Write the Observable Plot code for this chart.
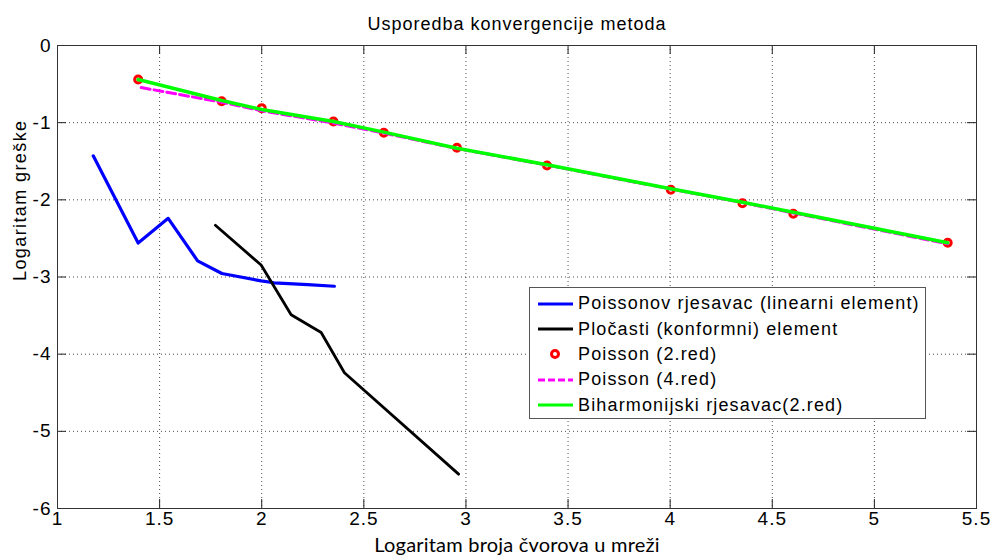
<!DOCTYPE html>
<html>
<head>
<meta charset="utf-8">
<script src="https://cdn.jsdelivr.net/npm/d3@7"></script>
<script src="https://cdn.jsdelivr.net/npm/@observablehq/plot@0.6"></script>
<style>
  html, body { margin: 0; padding: 0; background: #fff; }
  #wrap { position: relative; width: 992px; height: 556px; }
  #legend {
    position: absolute; left: 529px; top: 287px; width: 397px; height: 132px;
    border: 1px solid #555; background: #fff; box-sizing: border-box;
    font-family: "Liberation Sans", Arial, sans-serif; font-size: 18px; letter-spacing: 1.15px;
    padding-top: 3px;
  }
  .row { height: 25.4px; display: flex; align-items: center; white-space: nowrap; }
  .row svg { width: 38px; height: 20px; margin-left: 7px; margin-right: 3px; flex: none; }
</style>
</head>
<body>
<div id="wrap"></div>
<script>
// ---- data ----
const titleText = "Usporedba konvergencije metoda";
const xLabel = "Logaritam broja čvorova u mreži";
const yLabel = "Logaritam greške";
const xTicks = [1, 1.5, 2, 2.5, 3, 3.5, 4, 4.5, 5, 5.5];
const yTicks = [-6, -5, -4, -3, -2, -1, 0];

const seriesNames = [
  "Poissonov rjesavac (linearni element)",
  "Pločasti (konformni) element",
  "Poisson (2.red)",
  "Poisson (4.red)",
  "Biharmonijski rjesavac(2.red)"
];

const blueX = [1.175, 1.395, 1.542, 1.686, 1.805, 1.997, 2.06, 2.225, 2.356];
const blueY = [-1.43, -2.56, -2.24, -2.79, -2.955, -3.05, -3.075, -3.10, -3.12];

const blackX = [1.773, 1.997, 2.144, 2.291, 2.405, 2.964];
const blackY = [-2.33, -2.845, -3.49, -3.72, -4.24, -5.555];

const redX = [1.395, 1.804, 2.0, 2.351, 2.598, 2.956, 3.397, 4.003, 4.354, 4.603, 5.359];
const redY = [-0.441, -0.722, -0.812, -0.985, -1.131, -1.326, -1.555, -1.87, -2.044, -2.181, -2.557];

const magX = [1.41, 1.804, 2.0, 2.351, 2.598, 2.956, 3.397, 4.003, 4.354, 4.603, 5.359];
const magY = [-0.545, -0.735, -0.845, -1.005, -1.135, -1.335, -1.55, -1.86, -2.035, -2.17, -2.57];

const greenX = [1.395, 1.804, 2.0, 2.351, 2.598, 2.956, 3.397, 4.003, 4.354, 4.603, 5.359];
const greenY = [-0.441, -0.713, -0.829, -0.985, -1.123, -1.331, -1.546, -1.857, -2.031, -2.16, -2.557];

const zipXY = (xs, ys) => xs.map((x, i) => ({x, y: ys[i]}));
const blue = zipXY(blueX, blueY);
const black = zipXY(blackX, blackY);
const red = zipXY(redX, redY);
const mag = zipXY(magX, magY);
const green = zipXY(greenX, greenY);

const W = 992, H = 556, mL = 57, mR = 16, mT = 45, mB = 48;
const plotH = H - mT - mB, plotW = W - mL - mR;
const tick = 9;

const chart = Plot.plot({
  width: W, height: H,
  marginLeft: mL, marginRight: mR, marginTop: mT, marginBottom: mB,
  x: {domain: [1, 5.5]},
  y: {domain: [-6, 0]},
  style: {fontFamily: "'Liberation Sans', Arial, sans-serif", fontSize: "18px", background: "#fff", color: "#000"},
  marks: [
    Plot.gridX(xTicks.slice(1, -1), {stroke: "#000", strokeOpacity: 0.7, strokeDasharray: "1,3"}),
    Plot.gridY(yTicks.slice(1, -1), {stroke: "#000", strokeOpacity: 0.7, strokeDasharray: "1,3"}),
    Plot.ruleX(xTicks, {x: d => d, insetTop: plotH - tick, stroke: "#222"}),
    Plot.ruleX(xTicks, {x: d => d, insetBottom: plotH - tick, stroke: "#222"}),
    Plot.ruleY(yTicks, {y: d => d, insetRight: plotW - tick, stroke: "#222"}),
    Plot.ruleY(yTicks, {y: d => d, insetLeft: plotW - tick, stroke: "#222"}),
    Plot.axisX(xTicks, {tickSize: 0, tickPadding: 3, label: null, tickFormat: d => String(d), fontSize: 19}),
    Plot.axisY(yTicks, {tickSize: 0, tickPadding: 6, label: null, tickFormat: d => String(d), fontSize: 19}),
    Plot.line(blue, {x: "x", y: "y", stroke: "#0000ff", strokeWidth: 3.2}),
    Plot.line(black, {x: "x", y: "y", stroke: "#000", strokeWidth: 2.8}),
    Plot.dot(red, {x: "x", y: "y", r: 3.5, stroke: "#ff0000", strokeWidth: 3, fill: "none"}),
    Plot.line(mag, {x: "x", y: "y", stroke: "#ff00ff", strokeWidth: 3, strokeDasharray: "9,4"}),
    Plot.line(green, {x: "x", y: "y", stroke: "#00ff00", strokeWidth: 3.5}),
    Plot.frame({stroke: "#333"}),
    Plot.text([titleText], {text: d => d, frameAnchor: "top", dy: -21, lineAnchor: "middle", fontSize: 18}),
    Plot.text([xLabel], {text: d => d, frameAnchor: "bottom", dy: 37, lineAnchor: "middle", fontSize: 20, fontFamily: "Lato, 'Open Sans', sans-serif"}),
    Plot.text([yLabel], {text: d => d, frameAnchor: "left", dx: -37, dy: 4, rotate: -90, lineAnchor: "middle", fontSize: 18})
  ]
});

const svg = d3.select(chart);
svg.selectAll("text").style("letter-spacing", "1px");
svg.selectAll("text").filter(function() { return this.textContent === xLabel; }).style("letter-spacing", "0.2px");
svg.selectAll("text").filter(function() { return this.textContent === yLabel; }).style("letter-spacing", "1.4px");

const wrap = document.getElementById("wrap");
wrap.appendChild(chart);

// legend
const legend = document.createElement("div");
legend.id = "legend";
const sw = [
  `<line x1="1" y1="10" x2="36" y2="10" stroke="#0000ff" stroke-width="3"/>`,
  `<line x1="1" y1="10" x2="36" y2="10" stroke="#000" stroke-width="3"/>`,
  `<circle cx="18" cy="10" r="3.5" fill="none" stroke="#ff0000" stroke-width="3"/>`,
  `<line x1="1" y1="10" x2="36" y2="10" stroke="#ff00ff" stroke-width="3" stroke-dasharray="7,3"/>`,
  `<line x1="1" y1="10" x2="36" y2="10" stroke="#00ff00" stroke-width="3"/>`
];
seriesNames.forEach((name, i) => {
  const row = document.createElement("div");
  row.className = "row";
  row.innerHTML = `<svg viewBox="0 0 38 20">${sw[i]}</svg><span>${name}</span>`;
  legend.appendChild(row);
});
wrap.appendChild(legend);
</script>
</body>
</html>
